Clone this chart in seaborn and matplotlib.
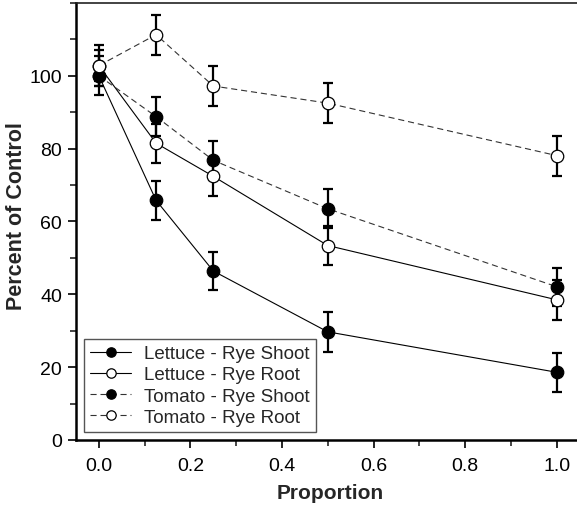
import matplotlib
matplotlib.use("Agg")
import matplotlib.pyplot as plt
import seaborn as sns
import pandas as pd
from matplotlib.ticker import MultipleLocator

sns.set_style("ticks")
plt.rcParams['font.family'] = ['Liberation Sans', 'DejaVu Sans']

proportion = [0.0, 0.125, 0.25, 0.5, 1.0]
series_names = ["Lettuce - Rye Shoot", "Lettuce - Rye Root",
                "Tomato - Rye Shoot", "Tomato - Rye Root"]
lettuce_shoot = [100.0, 65.8, 46.4, 29.7, 18.6]
lettuce_shoot_err = [5.4, 5.4, 5.3, 5.4, 5.4]
lettuce_root = [102.8, 81.5, 72.4, 53.4, 38.5]
lettuce_root_err = [4.3, 5.4, 5.4, 5.4, 5.5]
tomato_shoot = [100.0, 88.8, 76.8, 63.5, 42.1]
tomato_shoot_err = [2.8, 5.3, 5.3, 5.3, 5.2]
tomato_root = [102.8, 111.3, 97.2, 92.5, 78.1]
tomato_root_err = [5.6, 5.5, 5.5, 5.5, 5.5]

values = [lettuce_shoot, lettuce_root, tomato_shoot, tomato_root]
errors = [lettuce_shoot_err, lettuce_root_err, tomato_shoot_err, tomato_root_err]
fills = ["black", "white", "black", "white"]
styles = ["-", "-", (0, (5.5, 3.5)), (0, (5.5, 3.5))]
line_colors = ["black", "black", "#333333", "#333333"]

fig = plt.figure(figsize=(5.77, 5.10), dpi=100)
ax = fig.add_axes([0.1317, 0.1353, 0.8683, 0.8569])

for name, vals, errs, fc, ls, lc in zip(series_names, values, errors, fills, styles, line_colors):
    df = pd.DataFrame({"Proportion": proportion, "Percent": vals})
    ax.errorbar(proportion, vals, yerr=errs, fmt="none", ecolor="black",
                elinewidth=1.6, capsize=3.6, capthick=1.6, zorder=2)
    sns.lineplot(data=df, x="Proportion", y="Percent", ax=ax, color=lc,
                 linewidth=0.8, linestyle=ls, marker="o", markersize=9,
                 markerfacecolor=fc, markeredgecolor="black", markeredgewidth=0.9,
                 label=name, zorder=3)

ax.set_xlim(-0.05, 1.0446)
ax.set_ylim(0, 120)
ax.xaxis.set_minor_locator(MultipleLocator(0.1))
ax.yaxis.set_minor_locator(MultipleLocator(10))
ax.set_xticks([0.0, 0.2, 0.4, 0.6, 0.8, 1.0])
ax.set_xticklabels(["0.0", "0.2", "0.4", "0.6", "0.8", "1.0"])
ax.set_yticks([0, 20, 40, 60, 80, 100])
ax.tick_params(axis="both", which="major", direction="out", length=6, width=1.2,
               labelsize=14, colors="black")
ax.tick_params(axis="x", which="major", pad=6)
ax.tick_params(axis="y", which="major", pad=4)
ax.tick_params(axis="both", which="minor", direction="out", length=4, width=1.2)
for s in ["left", "bottom"]:
    ax.spines[s].set_linewidth(1.8)
    ax.spines[s].set_color("black")
ax.spines["top"].set_linewidth(1.2)
ax.spines["top"].set_color("#222222")
ax.spines["right"].set_visible(False)

ax.set_xlabel("Proportion", fontsize=15, fontweight="bold")
ax.set_ylabel("Percent of Control", fontsize=15.5, fontweight="bold")
ax.xaxis.set_label_coords(0.5 - (76 + 501 / 2 - 330) / 501, -0.119)
ax.yaxis.set_label_coords(-0.119, 0.515)
ax.xaxis.label.set_va("center")
ax.yaxis.label.set_va("center")

leg = ax.legend(loc="lower left", fontsize=13.5, frameon=True, fancybox=False,
                edgecolor="#555555", handlelength=2.2, handletextpad=0.7,
                borderpad=0.3, labelspacing=0.22, borderaxespad=0.45, markerscale=0.75)
leg.get_frame().set_linewidth(1.0)
leg.get_frame().set_alpha(1)

fig.savefig("out.png", dpi=100)
